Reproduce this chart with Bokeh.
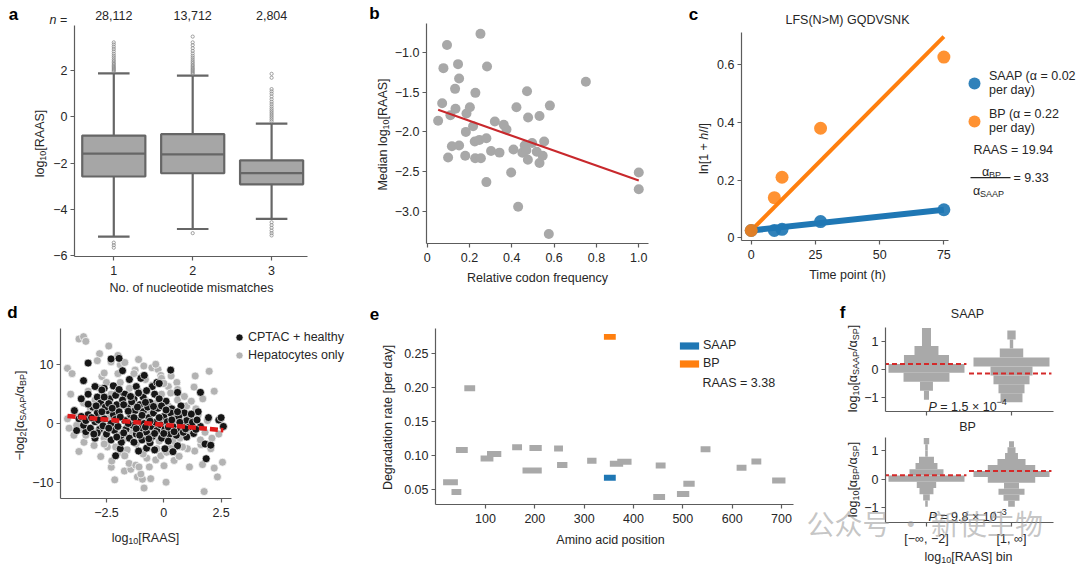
from math import pi

from bokeh.embed import file_html
from bokeh.layouts import column, row
from bokeh.models import (BoxAnnotation, ColumnDataSource, FixedTicker, Label,
                          Legend, LegendItem, Range1d)
from bokeh.plotting import figure
from bokeh.resources import INLINE

# ---------------------------------------------------------------- data
# a: log10 RAAS by number of nucleotide mismatches
mismatches = [1, 2, 3]
n_peptides = ["28,112", "13,712", "2,804"]
box_q1 = [-2.58, -2.44, -2.92]
box_median = [-1.59, -1.62, -2.43]
box_q3 = [-0.81, -0.75, -1.88]
whisker_low = [-5.18, -4.85, -4.41]
whisker_high = [1.88, 1.78, -0.29]
outliers_1 = [1.97, 2.02, 2.07, 2.12, 2.17, 2.22, 2.28, 2.34, 2.41, 2.48, 2.56,
              2.64, 2.73, 2.83, 2.93, 3.03, 3.13, 3.22, -5.44, -5.55, -5.66]
outliers_2 = [1.86, 1.91, 1.96, 2.01, 2.06, 2.12, 2.18, 2.24, 2.31, 2.38, 2.46,
              2.55, 2.64, 2.74, 2.85, 2.97, 3.10, 3.22, 3.47, -5.03]
outliers_3 = [-0.20, -0.12, -0.04, 0.04, 0.12, 0.20, 0.28, 0.36, 0.45, 0.55,
              0.65, 0.76, 0.88, 1.00, 1.10, 1.20, 1.69, 1.86,
              -4.56, -4.68, -4.80, -4.92, -5.03, -5.13]

# b: median log10 RAAS against relative codon frequency
codon_freq = [0.052, 0.071, 0.077, 0.094, 0.099, 0.117, 0.134, 0.110, 0.132, 0.146,
              0.151, 0.151, 0.180, 0.183, 0.186, 0.202, 0.217, 0.228, 0.225, 0.227,
              0.254, 0.247, 0.252, 0.280, 0.283, 0.280, 0.302, 0.320, 0.342, 0.362,
              0.375, 0.397, 0.408, 0.422, 0.430, 0.450, 0.461, 0.472, 0.477, 0.476,
              0.469, 0.496, 0.518, 0.531, 0.531, 0.546, 0.553, 0.580, 0.575, 0.750,
              1.000, 1.000]
median_log_raas = [-1.86, -1.64, -1.20, -0.91, -2.32, -2.18, -1.71, -1.79, -1.46, -1.15,
                   -1.33, -2.17, -2.30, -2.00, -1.77, -1.69, -1.93, -1.51, -2.12, -2.33,
                   -2.33, -2.10, -0.77, -2.08, -1.18, -2.63, -2.24, -1.87, -2.26, -1.91,
                   -1.97, -2.51, -2.22, -1.69, -2.94, -2.26, -2.17, -1.49, -1.82, -2.35,
                   -2.23, -2.14, -2.25, -1.80, -2.39, -2.30, -2.12, -1.67, -3.28, -1.37,
                   -2.51, -2.72]
codon_fit_slope = -0.937
codon_fit_intercept = -1.673

# c: heavy/light label incorporation of one SAAP and its base peptide
time_h = [0, 9, 12, 27, 75]
ln_saap = [0.025, 0.025, 0.029, 0.056, 0.097]
ln_bp = [0.025, 0.139, 0.210, 0.380, 0.627]
alpha_saap = 0.0231   # per day
alpha_bp = 0.2155     # per day
fit_offset = 0.025
raas_c = "19.94"

# d: relative degradation against RAAS
cptac_points = [
    (-3.3, 10.3), (-2.3, 11.0), (-1.95, 11.1), (-1.8, 9.0), (-1.5, 7.5), (-1.2, 6.3),
    (-1.0, 7.7), (-0.85, 8.2), (-0.5, 6.3), (-0.3, 7.0), (-0.2, 6.8), (0.3, 9.1),
    (0.6, 5.3), (1.6, 5.3), (2.4, 0.6), (2.6, -0.5), (2.5, 1.0), (1.95, 1.0),
    (1.6, -0.5), (1.5, 2.0), (1.8, -3.5), (1.85, -6.0), (2.05, -3.7), (0.6, -3.8),
    (0.4, -4.8), (0.05, -4.3), (-0.4, -4.5), (-0.75, -4.2), (-1.1, -4.7), (-1.9, -4.3),
    (-2.1, -5.5), (-1.85, -3.2), (-2.3, -2.8), (-3.0, -2.5), (-3.4, -1.4), (-3.8, -1.2),
    (-3.9, 2.2), (-3.6, 4.2), (-3.5, 7.3), (-3.3, 5.0), (-3.0, 6.3), (-2.9, 4.5),
    (-2.6, 6.0), (-2.7, 5.7), (-2.2, 6.4), (-2.0, 5.3), (-1.7, 5.0), (-1.3, 4.2),
    (-0.9, 4.5), (-0.6, 3.6), (-0.4, 5.0), (0.1, 3.8), (0.35, 2.5), (0.75, 3.0),
    (0.9, 1.8), (1.15, 0.9), (1.3, -1.7), (1.0, -2.3), (0.7, -1.2),
    (-3.7, 0.8), (-3.5, -0.3), (-3.3, 1.5), (-3.2, -0.8), (-3.1, 2.8), (-3.0, 0.3),
    (-2.9, 1.8), (-2.8, -1.0), (-2.75, 3.5), (-2.6, 0.8), (-2.5, -1.8), (-2.45, 2.2),
    (-2.35, 4.2), (-2.3, 0.0), (-2.2, 1.5), (-2.15, -1.2), (-2.05, 3.2), (-2.0, -0.5),
    (-1.95, 2.0), (-1.85, -2.0), (-1.8, 4.0), (-1.7, 0.5), (-1.65, -1.0), (-1.6, 2.8),
    (-1.5, -2.5), (-1.45, 1.5), (-1.4, 3.7), (-1.35, -0.3), (-1.25, 2.2), (-1.2, -1.8),
    (-1.1, 0.8), (-1.05, 3.2), (-1.0, -0.8), (-0.95, -2.8), (-0.9, 2.0), (-0.85, 0.0),
    (-0.75, -1.5), (-0.7, 2.8), (-0.65, 1.0), (-0.55, -0.5), (-0.5, -2.2), (-0.45, 1.8),
    (-0.35, 0.2), (-0.3, -1.2), (-0.25, 2.6), (-0.15, -0.2), (-0.1, -2.5), (0.0, 1.2),
    (0.05, -1.0), (0.15, 0.3), (0.25, -1.8), (0.3, 1.8), (0.4, -0.5), (0.5, 0.8),
    (0.55, -2.0), (0.65, 1.2), (0.8, -0.2), (0.85, -1.5), (1.0, 0.5), (1.1, -0.6),
    (1.25, 0.2), (1.4, -1.0), (1.45, 0.6), (-3.6, 1.2), (-2.9, -1.6), (-2.55, 2.8),
    (-1.3, -3.2), (-0.6, -3.3), (0.2, -3.0), (-2.1, 4.8), (-1.1, 5.2), (-0.2, 4.2),
    (-3.4, 0.5), (-3.15, 1.0), (-3.05, -1.8), (-2.95, 3.0), (-2.85, 0.6), (-2.7, 2.0),
    (-2.65, -0.4), (-2.4, -0.8), (-2.4, 3.4), (-2.25, 2.6), (-2.1, 0.7), (-2.05, -2.3),
    (-1.9, 1.1), (-1.75, 3.2), (-1.75, -1.6), (-1.55, 0.0), (-1.55, 2.1), (-1.45, 4.6),
    (-1.3, 1.0), (-1.2, -0.9), (-1.15, 2.8), (-1.05, -2.0), (-0.95, 1.4), (-0.8, -0.6),
    (-0.8, 3.6), (-0.65, -2.6), (-0.6, 0.4), (-0.45, 2.9), (-0.4, -1.7), (-0.2, 1.0),
    (-0.1, 3.0), (0.0, -1.7), (0.1, 2.3), (0.2, -0.6), (0.35, 0.6), (0.45, -1.4),
    (0.6, 2.0), (0.7, 0.2), (0.95, -0.9), (1.2, 1.6), (-2.6, 4.5), (-1.95, 5.8),
    (-0.75, 5.6), (-3.3, 3.3),
]
hepatocyte_points = [
    (-3.7, 14.4), (-3.5, 14.8), (-3.4, 14.0), (-4.2, 9.4), (-4.0, 8.5), (-4.06, 5.0),
    (-2.8, 11.9), (-2.4, 13.2), (-2.9, 10.7), (-2.7, 8.0), (-2.6, 8.6), (-2.3, 10.5),
    (-2.0, 11.6), (-1.9, 10.0), (-1.7, 10.4), (-1.1, 10.9), (-1.25, 9.1), (-0.9, 8.2),
    (-0.87, 9.8), (-0.52, 9.5), (-0.25, 9.2), (-0.35, 10.1), (-0.13, 8.2), (0.32, 8.1),
    (0.57, 7.0), (-0.1, 7.7), (1.37, 8.1), (1.98, 8.9), (2.2, 5.5), (1.32, 6.2),
    (1.7, 4.2), (0.6, 5.8), (0.2, 6.3),
    (-4.13, -0.8), (-3.92, -2.0), (-3.48, -3.2), (-3.04, -3.75), (-2.46, -4.0),
    (-1.88, -4.9), (-3.7, -4.77), (-2.75, -5.63), (-2.29, -7.44), (-2.14, -9.6),
    (-1.72, -8.1), (-1.44, -7.8), (-1.15, -9.1), (-0.93, -9.5), (-0.86, -11.0),
    (-0.57, -9.4), (-1.0, -8.6), (-0.35, -6.2), (0.01, -7.2), (0.1, -10.0), (0.45, -6.3),
    (0.67, -5.6), (1.12, -7.4), (1.69, -7.0), (2.34, -9.1), (2.56, -6.6), (2.2, -7.6),
    (1.76, -11.6), (1.35, -4.7), (1.62, -3.6), (1.98, -3.6), (2.05, -4.3), (1.03, -4.3),
    (0.82, -4.0), (-1.51, -6.8), (-1.22, -7.1), (-0.74, -5.9), (-0.63, -7.4),
    (-0.13, -5.5), (0.12, -4.9), (0.6, -3.9), (-2.27, -6.4), (-1.08, -7.4),
    (-3.2, 2.5), (-3.0, 4.0), (-2.9, -1.5), (-2.7, 3.0), (-2.6, -2.5), (-2.4, 1.0),
    (-2.3, 5.0), (-2.2, -1.0), (-2.0, 2.5), (-1.9, 7.0), (-1.8, -2.8), (-1.7, 4.5),
    (-1.6, 0.5), (-1.5, 6.0), (-1.4, -1.5), (-1.3, 3.0), (-1.2, -3.5), (-1.1, 5.5),
    (-1.0, 1.0), (-0.9, -2.0), (-0.8, 4.0), (-0.7, -4.0), (-0.6, 2.0), (-0.5, 6.5),
    (-0.4, -1.0), (-0.3, 3.5), (-0.2, -3.0), (-0.1, 5.0), (0.0, 0.5), (0.1, -2.0),
    (0.2, 3.0), (0.3, -4.0), (0.4, 1.5), (0.5, -1.5), (0.6, 4.0), (0.7, -2.5),
    (0.8, 2.0), (0.9, -0.5), (1.0, 3.0), (1.1, -1.8), (1.2, 1.0), (1.3, -0.8),
    (-3.4, -2.0), (-3.5, 3.5), (-2.8, 6.0), (-2.5, 7.0), (-2.1, -4.0), (-1.6, -4.5),
    (-1.0, -4.8), (-0.6, -3.2), (0.4, -3.0), (1.4, 2.5), (-3.6, -1.0), (-3.3, 5.5),
    (-2.0, 8.5), (-1.3, 8.5), (-0.8, 7.5), (0.0, 6.8), (1.5, 1.5), (1.8, -1.5),
    (2.1, -2.5), (1.9, 0.5), (1.6, -2.8), (2.4, -1.8), (-4.2, 0.8), (-3.9, 1.8),
    (-3.8, -0.3), (-0.3, -4.3), (0.3, 5.2), (0.9, 4.6), (1.2, 3.8), (-1.7, -5.5),
    (-2.6, -3.5), (-0.9, -5.2),
]
ratio_fit_slope = -0.357
ratio_fit_intercept = -0.22

# e: degradation rate of peptides along one protein
pep_start = [14, 31, 40, 57, 90, 103, 154, 175, 189, 239, 245, 306, 352, 367,
             445, 440, 488, 501, 536, 609, 639, 681]
pep_end = [44, 51, 64, 79, 116, 132, 174, 214, 214, 257, 266, 325, 379, 396,
           465, 464, 513, 524, 556, 629, 659, 708]
pep_rate = [0.0604, 0.046, 0.108, 0.199, 0.0955, 0.102, 0.112, 0.0777, 0.111, 0.110,
            0.0856, 0.092, 0.0876, 0.0906, 0.085, 0.0386, 0.043, 0.058, 0.109, 0.0817,
            0.091, 0.063]
saap_peptide = {"start": [340], "end": [364], "rate": [0.0668]}
bp_peptide = {"start": [340], "end": [364], "rate": [0.275]}
raas_e = "3.38"

# f: distributions of log10 rate ratios (bin lower edge, bin height, half-widths)
f_bins = ["[−∞, −2]", "[1, ∞]"]
saap_hist = [
    (-1.08, 0.32, [0.030, 0.076, 0.270, 0.447, 0.265, 0.141, 0.053, 0.053]),
    (-1.17, 0.32, [0.129, 0.153, 0.212, 0.247, 0.447, 0.138, 0.020, 0.049]),
]
bp_hist = [
    (-0.97, 0.22, [0.015, 0.039, 0.082, 0.114, 0.447, 0.200, 0.129, 0.088, 0.015, 0.015, 0.032]),
    (-0.97, 0.21, [0.039, 0.094, 0.153, 0.088, 0.279, 0.447, 0.279, 0.165, 0.076, 0.047, 0.029]),
]
saap_median = [0.20, -0.14]
bp_median = [0.14, 0.29]

# ---------------------------------------------------------------- style
FONT = "Liberation Sans"
FS = 12.5
TXT = "#262626"
AXC = "#5c5c5c"
GRAY = "#a9a9a9"
BLUE = "#1f77b4"
ORANGE = "#ff7f0e"
RED = "#d42a2a"

_W = {c: 556 for c in "0123456789"}
_W.update(dict(zip("abcdefghijklmnopqrstuvwxyz",
                   [556, 556, 500, 556, 556, 278, 556, 556, 222, 222, 500, 222, 833,
                    556, 556, 556, 556, 333, 500, 278, 556, 500, 722, 500, 500, 500])))
_W.update(dict(zip("ABCDEFGHIJKLMNOPQRSTUVWXYZ",
                   [667, 667, 722, 722, 667, 611, 778, 722, 278, 500, 667, 556, 833,
                    722, 778, 667, 778, 722, 667, 611, 722, 667, 944, 667, 667, 611])))
_W.update({" ": 278, "[": 278, "]": 278, "(": 333, ")": 333, "/": 278, "−": 584,
           "-": 333, "=": 584, "+": 584, ".": 278, ",": 278, "×": 584, "α": 578,
           "∞": 713, "·": 278, ">": 584})


def text_width(s, size):
    return sum(_W.get(c, 556) for c in s) * size / 1000.0


class Frame:
    """Pixel box of a plot frame on the page and the data ranges it shows."""

    def __init__(self, l, t, r, b, xr, yr):
        self.l, self.t, self.r, self.b = l, t, r, b
        self.xr, self.yr = xr, yr

    def px(self, x):
        return self.l + (x - self.xr[0]) * (self.r - self.l) / (self.xr[1] - self.xr[0])

    def py(self, y):
        return self.b - (y - self.yr[0]) * (self.b - self.t) / (self.yr[1] - self.yr[0])


def make_fig(canvas, fr):
    cl, ct, cr, cb = canvas
    p = figure(width=cr - cl, height=cb - ct, x_range=Range1d(*fr.xr),
               y_range=Range1d(*fr.yr), output_backend="svg", toolbar_location=None,
               title=None, min_border_left=fr.l - cl, min_border_right=cr - fr.r,
               min_border_top=fr.t - ct, min_border_bottom=cb - fr.b)
    p.frame_align = False
    p.xgrid.visible = False
    p.ygrid.visible = False
    p.outline_line_color = None
    for ax in (p.xaxis[0], p.yaxis[0]):
        ax.axis_line_color = AXC
        ax.axis_line_width = 1.2
        ax.major_tick_line_color = AXC
        ax.major_tick_line_width = 1.2
        ax.major_tick_out = 4
        ax.major_tick_in = 0
        ax.minor_tick_line_color = None
        ax.major_label_text_font = FONT
        ax.major_label_text_font_size = f"{FS}px"
        ax.major_label_text_color = TXT
    p.xaxis[0].major_label_standoff = 5
    p.yaxis[0].major_label_standoff = 3
    return p


def set_ticks(axis, ticks, labels):
    axis.ticker = FixedTicker(ticks=ticks)
    axis.major_label_overrides = {t: s for t, s in zip(ticks, labels)}


def minus(vals, fmt):
    return [fmt.format(v).replace("-", "−") for v in vals]


# A transparent sheet over the whole page carries every caption, in page pixels.
ov = figure(width=1080, height=570, x_range=Range1d(0, 1080), y_range=Range1d(570, 0),
            output_backend="svg", toolbar_location=None, title=None, min_border=0,
            x_axis_location=None, y_axis_location=None)
ov.frame_align = False
ov.outline_line_color = None
ov.background_fill_alpha = 0
ov.border_fill_alpha = 0
ov.grid.visible = False
ov.styles = {"position": "absolute", "left": "0px", "top": "0px"}


def label(text, px, py, size=FS, align="center", baseline="middle", style="normal",
          color=TXT, font=FONT, alpha=1.0, angle=0.0):
    ov.add_layout(Label(x=px, y=py, text=text, text_font=font, text_font_size=f"{size}px",
                        text_color=color, text_align=align, text_baseline=baseline,
                        text_font_style=style, text_alpha=alpha, angle=angle))


def rich(pieces, px, py, size=FS, vertical=False, align="center"):
    """Caption made of plain, italic, subscript and superscript runs."""
    small = size * 0.72
    runs = []
    for txt, kind in pieces:
        s = small if kind in ("sub", "sup") else size
        runs.append((txt, kind, s, text_width(txt, s)))
    total = sum(r[3] for r in runs)
    if not vertical:
        cur = px - total / 2 if align == "center" else px
        base = py + 0.36 * size
    else:
        cur = py + total / 2
        base = px + 0.36 * size
    for txt, kind, s, w in runs:
        lead = text_width(txt[:len(txt) - len(txt.lstrip(" "))], s)
        shift = 0.24 * size if kind == "sub" else (-0.42 * size if kind == "sup" else 0.0)
        style = "italic" if kind == "i" else "normal"
        if not vertical:
            label(txt.strip(" "), cur + lead, base + shift, size=s, align="left",
                  baseline="alphabetic", style=style)
            cur += w
        else:
            label(txt.strip(" "), base + shift, cur - lead, size=s, align="left",
                  baseline="alphabetic", style=style, angle=pi / 2)
            cur -= w


def letter(ch, px, py):
    label(ch, px, py, size=17, style="bold", color="black")


# ---------------------------------------------------------------- a
fa = Frame(74, 25, 307, 256, (0.502, 3.455), (-6.04, 3.95))
pa = make_fig((0, 0, 340, 295), fa)
set_ticks(pa.xaxis[0], mismatches, [str(m) for m in mismatches])
ya = [-6, -4, -2, 0, 2]
set_ticks(pa.yaxis[0], ya, minus(ya, "{}"))
box_src = ColumnDataSource(dict(
    x=mismatches, q1=box_q1, q2=box_median, q3=box_q3, lo=whisker_low, hi=whisker_high,
    left=[m - 0.4 for m in mismatches], right=[m + 0.4 for m in mismatches],
    cl=[m - 0.2 for m in mismatches], cr=[m + 0.2 for m in mismatches]))
LINEG = "#666666"
pa.segment(x0="x", y0="lo", x1="x", y1="q1", source=box_src, line_color=LINEG, line_width=2.2)
pa.segment(x0="x", y0="q3", x1="x", y1="hi", source=box_src, line_color=LINEG, line_width=2.2)
pa.quad(left="left", right="right", bottom="q1", top="q3", source=box_src,
        fill_color="#a6a6a6", line_color=LINEG, line_width=2.2)
pa.segment(x0="left", y0="q2", x1="right", y1="q2", source=box_src, line_color=LINEG, line_width=2.2)
pa.segment(x0="cl", y0="lo", x1="cr", y1="lo", source=box_src, line_color=LINEG, line_width=2.2)
pa.segment(x0="cl", y0="hi", x1="cr", y1="hi", source=box_src, line_color=LINEG, line_width=2.2)
fl_x, fl_y = [], []
for m, vals in zip(mismatches, (outliers_1, outliers_2, outliers_3)):
    fl_x += [m] * len(vals)
    fl_y += vals
pa.scatter(fl_x, fl_y, size=3.2, fill_color=None, line_color="#8a8a8a", line_width=0.8)
letter("a", 13, 14)
rich([("n", "i"), (" =", "n")], 49, 15, align="left")
for m, n in zip(mismatches, n_peptides):
    label(n, fa.px(m), 15)
rich([("log", "n"), ("10", "sub"), ("[RAAS]", "n")], 35, 143, vertical=True)
label("No. of nucleotide mismatches", 191, 287)

# ---------------------------------------------------------------- b
fb = Frame(426, 23, 648, 243, (-0.003, 1.046), (-3.40, -0.64))
pb = make_fig((340, 0, 680, 295), fb)
xb = [0, 0.2, 0.4, 0.6, 0.8, 1.0]
set_ticks(pb.xaxis[0], xb, ["0", "0.2", "0.4", "0.6", "0.8", "1.0"])
yb = [-3.0, -2.5, -2.0, -1.5, -1.0]
set_ticks(pb.yaxis[0], yb, minus(yb, "{:.1f}"))
pb.scatter(codon_freq, median_log_raas, size=10, fill_color="#a8a8a8", line_color=None)
bx = [min(codon_freq), max(codon_freq)]
pb.line(bx, [codon_fit_intercept + codon_fit_slope * v for v in bx], line_color="#c8282c", line_width=2)
letter("b", 374, 13)
rich([("Median log", "n"), ("10", "sub"), ("[RAAS]", "n")], 378, 134, vertical=True)
label("Relative codon frequency", 537, 277)

# ---------------------------------------------------------------- c
fc = Frame(741, 32, 1078, 240, (-3.78, 127.4), (-0.0097, 0.7125))
pc = make_fig((680, 0, 1080, 295), fc)
pc.xaxis[0].bounds = (-3.78, 76.8)
set_ticks(pc.xaxis[0], [0, 25, 50, 75], ["0", "25", "50", "75"])
set_ticks(pc.yaxis[0], [0, 0.2, 0.4, 0.6], ["0", "0.2", "0.4", "0.6"])
tx = [min(time_h), max(time_h)]
pc.line(tx, [fit_offset + alpha_saap * t / 24 for t in tx], line_color=BLUE, line_width=6)
pc.line(tx, [fit_offset + alpha_bp * t / 24 for t in tx], line_color=ORANGE, line_width=4)
r_saap = pc.scatter(time_h, ln_saap, size=13, fill_color=BLUE, line_color=None, fill_alpha=0.92)
r_bp = pc.scatter(time_h, ln_bp, size=13, fill_color=ORANGE, line_color=None, fill_alpha=0.85)
leg_c = Legend(items=[
    LegendItem(label=f"SAAP (α = {alpha_saap:.2f}\nper day)", renderers=[r_saap]),
    LegendItem(label=f"BP (α = {alpha_bp:.2f}\nper day)", renderers=[r_bp])],
    location=(218, 104), orientation="vertical", border_line_color=None,
    background_fill_alpha=0, padding=0, margin=0, spacing=8, glyph_width=30,
    glyph_height=30, label_height=28, label_standoff=0, label_text_font=FONT,
    label_text_font_size=f"{FS}px", label_text_color=TXT, label_text_line_height=1.1)
pc.add_layout(leg_c)
label(f"RAAS = {raas_c}", 973, 149, align="left")
rich([("α", "n"), ("BP", "sub")], 991, 167)
rich([("α", "n"), ("SAAP", "sub")], 988, 186)
ov.add_layout(BoxAnnotation(left=970, right=1010, top=176.6, bottom=177.7,
                            fill_color=TXT, fill_alpha=1, line_alpha=0))
label(f"= {alpha_bp / alpha_saap:.2f}", 1013, 177, align="left")
letter("c", 693, 14)
label("LFS(N>M) GQDVSNK", 847, 19)
rich([("ln[1 + ", "n"), ("h", "i"), ("/", "n"), ("l", "i"), ("]", "n")], 699, 148, vertical=True)
label("Time point (h)", 847, 274)

# ---------------------------------------------------------------- d
fd = Frame(60, 328, 346, 498, (-4.505, 7.97), (-12.78, 16.19))
pd = make_fig((0, 295, 348, 570), fd)
pd.xaxis[0].bounds = (-4.505, 2.94)
xd = [-2.5, 0, 2.5]
set_ticks(pd.xaxis[0], xd, ["−2.5", "0", "2.5"])
yd = [-10, 0, 10]
set_ticks(pd.yaxis[0], yd, ["−10", "0", "10"])
r_hep = pd.scatter([q[0] for q in hepatocyte_points], [q[1] for q in hepatocyte_points],
                   size=8, fill_color="#b3b3b3", line_color="white", line_width=0.7)
r_cptac = pd.scatter([q[0] for q in cptac_points], [q[1] for q in cptac_points],
                     size=8, fill_color="#161616", line_color="white", line_width=0.7)
all_x = [q[0] for q in cptac_points + hepatocyte_points]
dx = [min(all_x), max(all_x)]
pd.line(dx, [ratio_fit_intercept + ratio_fit_slope * v for v in dx], line_color="#e01b1b",
        line_width=4.5, line_dash="8 3")
leg_d = Legend(items=[LegendItem(label="CPTAC + healthy", renderers=[r_cptac]),
                      LegendItem(label="Hepatocytes only", renderers=[r_hep])],
               location=(170, 134), orientation="vertical", border_line_color=None,
               background_fill_alpha=0, padding=0, margin=0, spacing=0, glyph_width=18,
               glyph_height=18, label_height=18, label_standoff=0, label_text_font=FONT,
               label_text_font_size=f"{FS}px", label_text_color=TXT)
pd.add_layout(leg_d)
letter("d", 12, 312)
rich([("−log", "n"), ("2", "sub"), ("[α", "n"), ("SAAP", "sub"), ("/α", "n"),
      ("BP", "sub"), ("]", "n")], 15, 415, vertical=True)
rich([("log", "n"), ("10", "sub"), ("[RAAS]", "n")], 145, 533)

# ---------------------------------------------------------------- e
fe = Frame(435, 328, 793, 504, (-1.4, 724.3), (0.0274, 0.2874))
pe = make_fig((348, 295, 795, 570), fe)
xe = [100, 200, 300, 400, 500, 600, 700]
set_ticks(pe.xaxis[0], xe, [str(v) for v in xe])
ye = [0.05, 0.10, 0.15, 0.20, 0.25]
set_ticks(pe.yaxis[0], ye, ["0.05", "0.10", "0.15", "0.20", "0.25"])
BAR_H = 0.0088
pe.hbar(y=pep_rate, left=pep_start, right=pep_end, height=BAR_H, fill_color=GRAY, line_color=None)
r_es = pe.hbar(y=saap_peptide["rate"], left=saap_peptide["start"], right=saap_peptide["end"],
               height=BAR_H, fill_color=BLUE, line_color=None)
r_eb = pe.hbar(y=bp_peptide["rate"], left=bp_peptide["start"], right=bp_peptide["end"],
               height=BAR_H, fill_color=ORANGE, line_color=None)
leg_e = Legend(items=[LegendItem(label="SAAP", renderers=[r_es]),
                      LegendItem(label="BP", renderers=[r_eb])],
               location=(242, 132), orientation="vertical", border_line_color=None,
               background_fill_alpha=0, padding=0, margin=0, spacing=0, glyph_width=24,
               glyph_height=9, label_height=18, label_standoff=2, label_text_font=FONT,
               label_text_font_size=f"{FS}px", label_text_color=TXT)
pe.add_layout(leg_e)
label(f"RAAS = {raas_e}", 702, 382, align="left")
letter("e", 374, 313)
label("Degradation rate [per day]", 387, 417, angle=pi / 2)
label("Amino acid position", 610, 539)


# ---------------------------------------------------------------- f
def violins(p, hists, medians):
    left, right, bottom, top = [], [], [], []
    for pos, (start, step, half) in enumerate(hists):
        for i, h in enumerate(half):
            left.append(pos - h)
            right.append(pos + h)
            bottom.append(start + i * step)
            top.append(start + (i + 1) * step)
    p.quad(left=left, right=right, bottom=bottom, top=top, fill_color=GRAY, line_color=None)
    p.segment(x0=[k - 0.5 for k in range(len(medians))], x1=[k + 0.47 for k in range(len(medians))],
              y0=medians, y1=medians, line_color=RED, line_width=2, line_dash="5 3")


ff1 = Frame(885, 327, 1053, 411, (-0.482, 1.494), (-1.5, 1.5))
pf1 = make_fig((795, 295, 1080, 421), ff1)
set_ticks(pf1.xaxis[0], [0, 1], ["", ""])
pf1.xaxis[0].major_label_text_font_size = "0px"
pf1.xaxis[0].major_label_standoff = 0
set_ticks(pf1.yaxis[0], [-1, 0, 1], ["−1", "0", "1"])
violins(pf1, saap_hist, saap_median)
label("SAAP", 967, 313)
rich([("P", "i"), (" = 1.5 × 10", "n"), ("−4", "sup")], 928, 402, align="left")
rich([("log", "n"), ("10", "sub"), ("[α", "n"), ("SAAP", "sub"), ("/α", "n"),
      ("SP", "sub"), ("]", "n")], 848, 368, vertical=True)
letter("f", 842, 312)

ff2 = Frame(885, 437, 1053, 522, (-0.482, 1.494), (-1.53, 1.47))
pf2 = make_fig((795, 421, 1080, 570), ff2)
set_ticks(pf2.xaxis[0], [0, 1], f_bins)
set_ticks(pf2.yaxis[0], [-1, 0, 1], ["−1", "0", "1"])
violins(pf2, bp_hist, bp_median)
label("BP", 967, 426)
rich([("P", "i"), (" = 9.8 × 10", "n"), ("−3", "sup")], 928, 512, align="left")
rich([("log", "n"), ("10", "sub"), ("[α", "n"), ("BP", "sub"), ("/α", "n"),
      ("SP", "sub"), ("]", "n")], 848, 479, vertical=True)
rich([("log", "n"), ("10", "sub"), ("[RAAS] bin", "n")], 968, 552)
label("公众号 · 新使生物", 806, 522, size=28, align="left", font="Noto Sans CJK SC",
      color="#959595", alpha=0.55)

layout = column(row(pa, pb, pc), row(pd, pe, column(pf1, pf2)), ov)
open("out.html", "w").write(file_html(layout, INLINE, title="RAAS and degradation"))
